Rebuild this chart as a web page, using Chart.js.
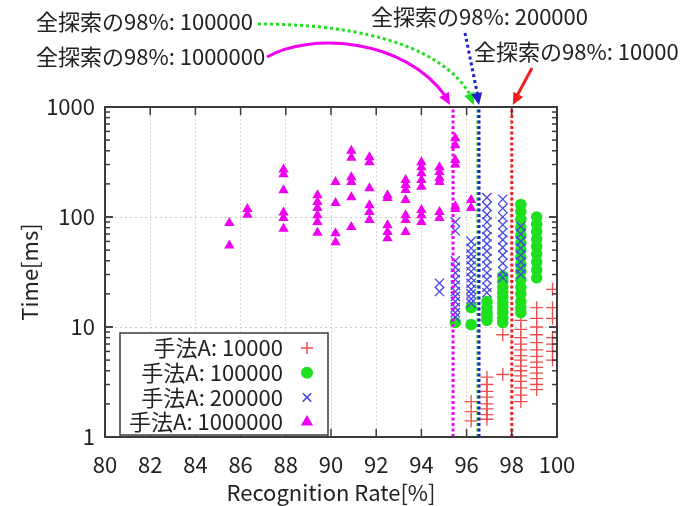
<!DOCTYPE html>
<html>
<head>
<meta charset="utf-8">
<script src="https://cdn.jsdelivr.net/npm/chart.js@4.4.1/dist/chart.umd.min.js"></script>
<style>
  html, body { margin: 0; padding: 0; background: #fff; }
  #wrap { width: 688px; height: 506px; }
</style>
</head>
<body>
<div id="wrap"><canvas id="chart"></canvas></div>
<script>
// ticks
const xTicks = [80, 82, 84, 86, 88, 90, 92, 94, 96, 98, 100];
const yTicks = [1, 10, 100, 1000];

const seriesLabels = ['手法A: 10000', '手法A: 100000', '手法A: 200000', '手法A: 1000000'];
const seriesColors = ['#e8504f', '#1fe01f', '#4545e6', '#f000f0'];

// [recognition rate, [times in ms]]
const m10000 = [
  [96.2, [2.1, 1.7, 1.4]],
  [96.9, [3.5, 3.0, 2.6, 2.3, 2.0, 1.8, 1.6, 1.45]],
  [97.6, [8.5, 3.7]],
  [98.4, [11.5, 9.5, 8, 7, 6.2, 5.5, 5, 4.4, 4, 3.6, 3.2, 2.8, 2.4, 2.1]],
  [99.1, [15, 12, 10, 8.5, 7.2, 6.2, 5.4, 4.8, 4.3, 3.8, 3.4, 3.0, 2.7]],
  [99.8, [22, 15, 12, 8, 7, 6, 5]]
];
const m100000 = [
  [95.5, [11]],
  [96.2, [15, 10.5]],
  [96.9, [17, 15, 13.5, 12.5, 11.5]],
  [97.6, [29, 26, 23, 20.5, 18.5, 16.5, 15, 13.5, 12, 11]],
  [98.4, [130, 112, 95, 80, 68, 58, 50, 43, 37, 32, 27, 23, 20, 17, 15, 13.5]],
  [99.1, [100, 86, 74, 63, 54, 46, 39, 33, 28]]
];
const m200000 = [
  [94.8, [25, 21]],
  [95.5, [90, 75, 40, 35, 31, 27, 24, 21, 19, 17, 15, 13.5, 12.3]],
  [96.2, [60, 52, 46, 41, 36, 32, 28, 25, 22, 20, 18, 16.5]],
  [96.9, [150, 125, 105, 90, 77, 66, 57, 49, 42, 36, 31, 27, 23, 20.5]],
  [97.6, [145, 120, 100, 85, 72, 62, 53, 45, 38, 32, 28]],
  [98.4, [82, 70, 60, 52, 45, 39, 34, 30]]
];
const m1000000 = [
  [85.5, [88, 55]],
  [86.3, [118, 105]],
  [87.9, [270, 245, 175, 110, 98, 78]],
  [89.4, [158, 137, 121, 104, 90, 72]],
  [90.2, [208, 134, 71, 59]],
  [90.9, [400, 345, 230, 208, 151, 81]],
  [91.7, [350, 315, 183, 128, 111, 94]],
  [92.5, [158, 149, 84, 73, 64]],
  [93.3, [217, 195, 176, 143, 104, 94, 73]],
  [94.0, [315, 284, 250, 217, 188, 116, 104, 90]],
  [94.8, [284, 257, 226, 208, 111, 98]],
  [95.5, [520, 450, 330, 300, 125, 118]],
  [96.2, [143, 121]]
];

// 98% of full search, same order as the series
const fullLabels = ['全探索の98%: 10000', '全探索の98%: 100000', '全探索の98%: 200000', '全探索の98%: 1000000'];
const fullRates = [98.0, 96.5, 96.55, 95.4];

const toPts = cols => cols.flatMap(c => c[1].map(t => ({x: c[0], y: t})));

const styles = [
  {pointStyle: 'cross', radius: 6.5, borderWidth: 1.3},
  {pointStyle: 'circle', radius: 5.8, borderWidth: 0},
  {pointStyle: 'crossRot', radius: 6.5, borderWidth: 1.3},
  {pointStyle: 'triangle', radius: 6, borderWidth: 0}
];
const allSeries = [m10000, m100000, m200000, m1000000];
const pointOrder = [4, 3, 2, 1];
const lineColors = ['#f02020', '#1fe01f', '#2020d0', '#f000f0'];
const lineOrder = [0, 0.5, 0, 0];

const datasets = allSeries.map((s, i) => ({
  label: seriesLabels[i],
  data: toPts(s),
  pointStyle: styles[i].pointStyle,
  pointRadius: styles[i].radius,
  pointBorderWidth: styles[i].borderWidth,
  pointBackgroundColor: seriesColors[i],
  pointBorderColor: seriesColors[i],
  order: pointOrder[i]
}));

fullRates.forEach((r, i) => {
  datasets.push({
    label: fullLabels[i],
    data: [{x: r, y: 1}, {x: r, y: 1000}],
    showLine: true,
    pointRadius: 0,
    borderColor: lineColors[i],
    borderWidth: 3,
    borderDash: [3, 2.5],
    order: lineOrder[i]
  });
});

const font = '"Noto Sans CJK JP", "Noto Sans", sans-serif';
const fs = 22;

function arrowHead(ctx, fx, fy, tx, ty, color) {
  const ang = Math.atan2(ty - fy, tx - fx);
  const len = 12, w = 5.5;
  ctx.save();
  ctx.setLineDash([]);
  ctx.fillStyle = color;
  ctx.beginPath();
  ctx.moveTo(tx, ty);
  ctx.lineTo(tx - len * Math.cos(ang) + w * Math.sin(ang), ty - len * Math.sin(ang) - w * Math.cos(ang));
  ctx.lineTo(tx - len * Math.cos(ang) - w * Math.sin(ang), ty - len * Math.sin(ang) + w * Math.cos(ang));
  ctx.closePath();
  ctx.fill();
  ctx.restore();
}

const decor = {
  id: 'decor',
  afterDraw(chart) {
    const {ctx, chartArea: a, scales: {x, y}} = chart;
    ctx.save();

    // frame and inward ticks
    ctx.strokeStyle = '#3a3a3a';
    ctx.lineWidth = 2;
    ctx.strokeRect(a.left, a.top, a.width, a.height);
    ctx.lineWidth = 1.5;
    const seg = (x1, y1, x2, y2) => { ctx.beginPath(); ctx.moveTo(x1, y1); ctx.lineTo(x2, y2); ctx.stroke(); };
    xTicks.forEach(v => {
      const px = x.getPixelForValue(v);
      seg(px, a.bottom, px, a.bottom - 8);
      seg(px, a.top, px, a.top + 8);
    });
    [1, 10, 100].forEach(d => {
      for (let m = 1; m <= 10; m++) {
        const py = y.getPixelForValue(d * m);
        const len = (m === 1 || m === 10) ? 8 : 5;
        seg(a.left, py, a.left + len, py);
        seg(a.right, py, a.right - len, py);
      }
    });

    // legend
    const bx = a.left + 15, by = a.bottom - 104, bw = 208, bh = 102;
    ctx.fillStyle = '#fff';
    ctx.fillRect(bx, by, bw, bh);
    ctx.lineWidth = 1.5;
    ctx.strokeRect(bx, by, bw, bh);
    ctx.font = fs + 'px ' + font;
    ctx.textAlign = 'right';
    ctx.textBaseline = 'middle';
    seriesLabels.forEach((lab, i) => {
      const ry = by + 15 + i * 24.7;
      ctx.fillStyle = '#222';
      ctx.fillText(lab, bx + 163, ry);
      ctx.fillStyle = seriesColors[i];
      ctx.strokeStyle = seriesColors[i];
      Chart.helpers.drawPoint(ctx, {pointStyle: styles[i].pointStyle, radius: styles[i].radius - 0.5, borderWidth: styles[i].borderWidth || 0.01}, bx + 187, ry);
    });

    // annotations for the 98% lines
    ctx.textAlign = 'left';
    ctx.fillStyle = '#222';
    ctx.fillText(fullLabels[1], 36, 22);
    ctx.fillText(fullLabels[3], 36, 57);
    ctx.fillText(fullLabels[2], 371, 17);
    ctx.fillText(fullLabels[0], 474, 52);

    const top = a.top - 2;
    // magenta, solid curve
    let ex = x.getPixelForValue(fullRates[3]) - 3;
    ctx.strokeStyle = lineColors[3];
    ctx.lineWidth = 3;
    ctx.setLineDash([]);
    ctx.beginPath();
    ctx.moveTo(267, 57);
    ctx.bezierCurveTo(310, 32, 405, 38, ex - 4, top - 8);
    ctx.stroke();
    arrowHead(ctx, ex - 8, top - 14, ex, top, lineColors[3]);

    // green, dotted curve
    ex = x.getPixelForValue(fullRates[1]) - 4;
    ctx.strokeStyle = lineColors[1];
    ctx.setLineDash([3, 3]);
    ctx.beginPath();
    ctx.moveTo(258, 24);
    ctx.bezierCurveTo(370, 24, 445, 50, ex - 3, top - 9);
    ctx.stroke();
    arrowHead(ctx, ex - 6, top - 15, ex, top, lineColors[1]);

    // blue, dotted line
    ex = x.getPixelForValue(fullRates[2]);
    ctx.strokeStyle = lineColors[2];
    ctx.beginPath();
    ctx.moveTo(465, 33);
    ctx.lineTo(ex - 1, top - 8);
    ctx.stroke();
    arrowHead(ctx, 465, 33, ex, top, lineColors[2]);

    // red, solid line
    ex = x.getPixelForValue(fullRates[0]) + 1;
    ctx.strokeStyle = lineColors[0];
    ctx.setLineDash([]);
    ctx.beginPath();
    ctx.moveTo(532, 68);
    ctx.lineTo(ex + 3, top - 7);
    ctx.stroke();
    arrowHead(ctx, 532, 68, ex, top, lineColors[0]);

    ctx.restore();
  }
};

new Chart(document.getElementById('chart'), {
  type: 'scatter',
  data: {datasets},
  options: {
    responsive: true,
    maintainAspectRatio: false,
    animation: false,
    layout: {padding: {top: 107, right: 131, left: 0, bottom: 0}},
    plugins: {legend: {display: false}, tooltip: {enabled: false}},
    scales: {
      x: {
        type: 'linear',
        min: 80,
        max: 100,
        afterBuildTicks: s => { s.ticks = xTicks.map(v => ({value: v})); },
        afterFit: s => { s.height = 69; },
        ticks: {font: {family: font, size: fs}, color: '#222', padding: 14},
        grid: {color: '#d4d4d4', lineWidth: 1, drawTicks: false},
        border: {display: false, dash: [2, 2]},
        title: {display: true, text: 'Recognition Rate[%]', font: {family: font, size: fs}, color: '#222', padding: {top: 0, bottom: 0}}
      },
      y: {
        type: 'logarithmic',
        min: 1,
        max: 1000,
        afterBuildTicks: s => { s.ticks = yTicks.map(v => ({value: v})); },
        afterFit: s => { s.width = 105; },
        ticks: {font: {family: font, size: fs}, color: '#222', padding: 10, callback: v => String(v)},
        grid: {color: '#c8c8c8', lineWidth: 1, drawTicks: false},
        border: {display: false, dash: [2, 3]},
        title: {display: true, text: 'Time[ms]', font: {family: font, size: fs}, color: '#222', padding: {top: 16, bottom: 0}}
      }
    }
  },
  plugins: [decor]
});
</script>
</body>
</html>
